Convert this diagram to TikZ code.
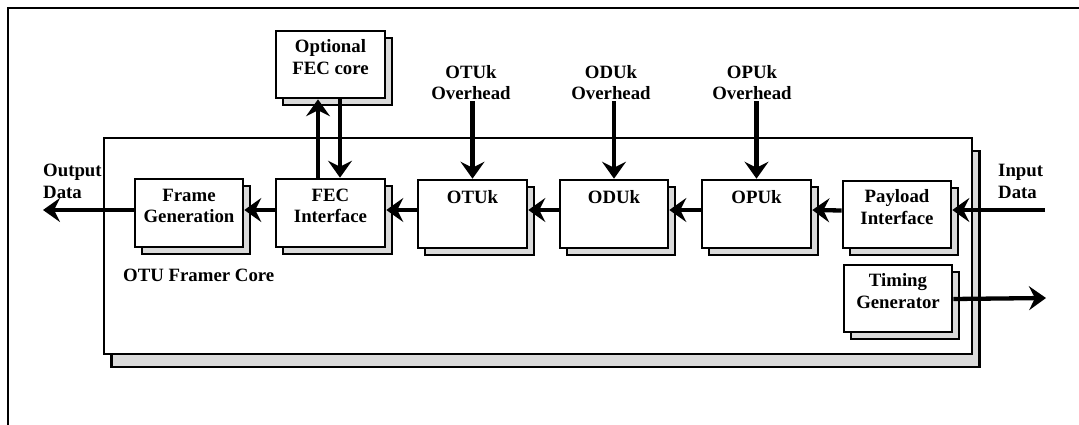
\documentclass[tikz,border=0pt]{standalone}
\usepackage{fontspec}
\setmainfont{Liberation Serif}
\usetikzlibrary{arrows.meta,shadows,calc}
\definecolor{shadowgray}{RGB}{218,218,218}
\begin{document}
\begin{tikzpicture}[x=1pt,y=-1pt,
  blk/.style={draw=black,line width=2.6pt,fill=white,minimum width=108pt,minimum height=68pt,inner sep=0pt,
     copy shadow={shadow xshift=7pt,shadow yshift=-7pt,fill=shadowgray,draw=black}},
  bigblk/.style={draw=black,line width=2.6pt,fill=white,minimum width=868pt,minimum height=216pt,inner sep=0pt,
     copy shadow={shadow xshift=7.5pt,shadow yshift=-13pt,fill=shadowgray,draw=black}},
  lbl/.style={font=\bfseries\fontsize{18.8}{21.5}\selectfont,align=center,inner sep=0pt,anchor=north},
  flow/.style={line width=4.3pt,-{Stealth[length=17pt 0,width=24pt 0,inset=6pt 0]}},
  framestyle/.style={line width=2pt}]
\useasboundingbox (0,0) rectangle (1079,425);
% outer frame
\coordinate (ftl) at (8,8);
\coordinate (ftr) at (1079,8);
\coordinate (fbl) at (8,425);
\draw[framestyle] (fbl) -- (ftl) -- (ftr);
% main core box
\node[bigblk] (core) at (538,246) {};
% blocks
\node[blk] (fg)  at (189,213) {};
\node[blk,minimum width=109pt] (fec) at (330.5,213) {};
\node[blk,minimum width=109pt,minimum height=67pt] (opt) at (330.5,64.5) {};
\node[blk,minimum width=109pt] (otu) at (472.5,214) {};
\node[blk] (odu) at (614,214) {};
\node[blk,minimum width=109pt] (opu) at (756.5,214) {};
\node[blk,minimum height=67pt] (pay) at (897,214.5) {};
\node[blk,minimum height=67pt] (tim) at (898,298.5) {};
% block texts
\node[lbl] (fgt)  at ([yshift=-11pt]fg.north)  {Frame\\Generation};
\node[lbl] (fect) at ([yshift=-11pt]fec.north) {FEC\\Interface};
\node[lbl] (optt) at ([yshift=-10pt]opt.north) {Optional\\FEC core};
\node[lbl] (otut) at ([yshift=-12pt]otu.north) {OTUk};
\node[lbl] (odut) at ([yshift=-12pt]odu.north) {ODUk};
\node[lbl] (oput) at ([yshift=-12pt]opu.north) {OPUk};
\node[lbl] (payt) at ([yshift=-10pt]pay.north) {Payload\\Interface};
\node[lbl] (timt) at ([yshift=-10pt]tim.north) {Timing\\Generator};
% free labels
\node[lbl,anchor=north west,align=left] (outl) at (43,164) {Output\\Data};
\node[lbl,anchor=north west,align=left] (inl) at (998,164) {Input\\Data};
\node[lbl,anchor=north west] (corel) at (123,269) {OTU Framer Core};
\node[lbl] (otuoh) at (471,65) {OTUk\\Overhead};
\node[lbl] (oduoh) at (611,65) {ODUk\\Overhead};
\node[lbl] (opuoh) at (752,65) {OPUk\\Overhead};
% end points
\coordinate (outend) at (43,210);
\coordinate (instart) at (1045,210);
\coordinate (timend) at (1046,298);
% connectors
\draw[flow] (instart) -- ([yshift=4.5pt]pay.east);
\draw[flow] ([yshift=4pt]pay.west) -- ([yshift=4pt]opu.east);
\draw[flow] ([yshift=4pt]opu.west) -- ([yshift=4pt]odu.east);
\draw[flow] ([yshift=4pt]odu.west) -- ([yshift=4pt]otu.east);
\draw[flow] ([yshift=4pt]otu.west) -- ([yshift=3pt]fec.east);
\draw[flow] ([yshift=3pt]fec.west) -- ([yshift=3pt]fg.east);
\draw[flow] ([yshift=3pt]fg.west) -- (outend);
\draw[flow] ([yshift=-0.5pt]tim.east) -- (timend);
\draw[flow] ([xshift=-12.5pt]fec.north) -- ([xshift=-12.5pt]opt.south);
\draw[flow] ([xshift=9.5pt]opt.south) -- ([xshift=9.5pt]fec.north);
\draw[flow] ([yshift=-1pt]otuoh.south -| otu.north) -- (otu.north);
\draw[flow] ([yshift=-1pt]oduoh.south -| odu.north) -- (odu.north);
\draw[flow] ([yshift=-1pt]opuoh.south -| opu.north) -- (opu.north);
\end{tikzpicture}
\end{document}
